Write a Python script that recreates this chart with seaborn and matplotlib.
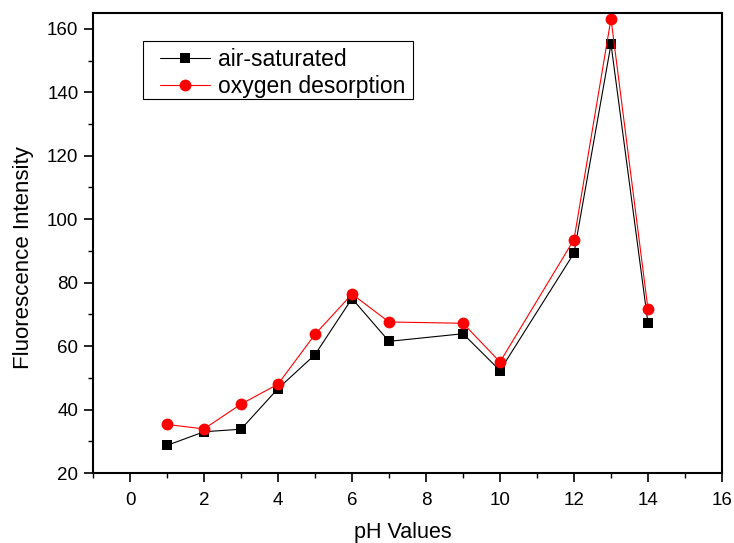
import matplotlib
matplotlib.use("Agg")
import matplotlib.pyplot as plt
import seaborn as sns
import pandas as pd
from matplotlib.ticker import MultipleLocator
from matplotlib.patches import Rectangle

ph = [1, 2, 3, 4, 5, 6, 7, 9, 10, 12, 13, 14]
air_saturated = [28.7, 33.0, 33.8, 46.6, 57.3, 75.0, 61.5, 63.9, 52.3, 89.3, 155.2, 67.2]
oxygen_desorption = [35.3, 33.9, 41.7, 48.0, 63.7, 76.4, 67.6, 67.2, 55.0, 93.6, 163.2, 71.6]

sns.set_style("ticks")
plt.rcParams['font.family'] = ['Liberation Sans', 'DejaVu Sans']
plt.rcParams['text.color'] = 'black'
plt.rcParams['axes.labelcolor'] = 'black'

W, H = 734, 543
L, R, T, B = 93, 722, 13, 473
fig = plt.figure(figsize=(W/100, H/100), dpi=100)
ax = fig.add_axes([L/W, 1-B/H, (R-L)/W, (B-T)/H])

df_air = pd.DataFrame({"pH": ph, "val": air_saturated})
df_oxy = pd.DataFrame({"pH": ph, "val": oxygen_desorption})

sns.lineplot(data=df_air, x="pH", y="val", ax=ax, color="black", lw=0.8,
             marker="s", markersize=7.5, markeredgewidth=0, label="air-saturated")
sns.lineplot(data=df_oxy, x="pH", y="val", ax=ax, color="#ff0000", lw=0.8,
             marker="o", markersize=8.5, markeredgewidth=0, label="oxygen desorption")

ax.set_xlim(-1, 16)
ax.set_ylim(20, 165)
ax.xaxis.set_major_locator(MultipleLocator(2))
ax.xaxis.set_minor_locator(MultipleLocator(1))
ax.yaxis.set_major_locator(MultipleLocator(20))
ax.yaxis.set_minor_locator(MultipleLocator(10))
ax.tick_params(which="major", direction="out", length=6.5, width=1.2, labelsize=13.5,
               colors="black")
ax.tick_params(axis="x", which="major", pad=7)
ax.tick_params(axis="y", which="major", pad=4)
ax.tick_params(which="minor", direction="out", length=3.8, width=1.0, colors="black")
for s in ax.spines.values():
    s.set_visible(True)
    s.set_linewidth(1.5)
    s.set_color("black")

def ax_x(px):
    return (px-L)/(R-L)

def ax_y(py):
    return (B-py)/(B-T)

ax.set_xlabel("pH Values", fontsize=15.5)
ax.set_ylabel("Fluorescence Intensity", fontsize=16)
ax.xaxis.set_label_coords(ax_x(402.5), ax_y(522))
ax.xaxis.label.set_va("top")
ax.yaxis.set_label_coords(ax_x(34), ax_y(257.5))

# legend frame
frame = Rectangle((ax_x(143), ax_y(99)), ax_x(413)-ax_x(143), ax_y(40.7)-ax_y(99),
                  transform=ax.transAxes, fill=True, facecolor="white",
                  edgecolor="black", lw=0.8, zorder=4)
ax.add_patch(frame)

leg = ax.legend(loc="upper left", bbox_to_anchor=(ax_x(160), ax_y(48.5)),
                fontsize=16.5, frameon=False, handlelength=2.2,
                borderpad=0, labelspacing=0.15, handletextpad=0.35, borderaxespad=0)
leg.set_zorder(5)
for t in leg.get_texts():
    t.set_color("black")

fig.savefig("out.png", dpi=100)
